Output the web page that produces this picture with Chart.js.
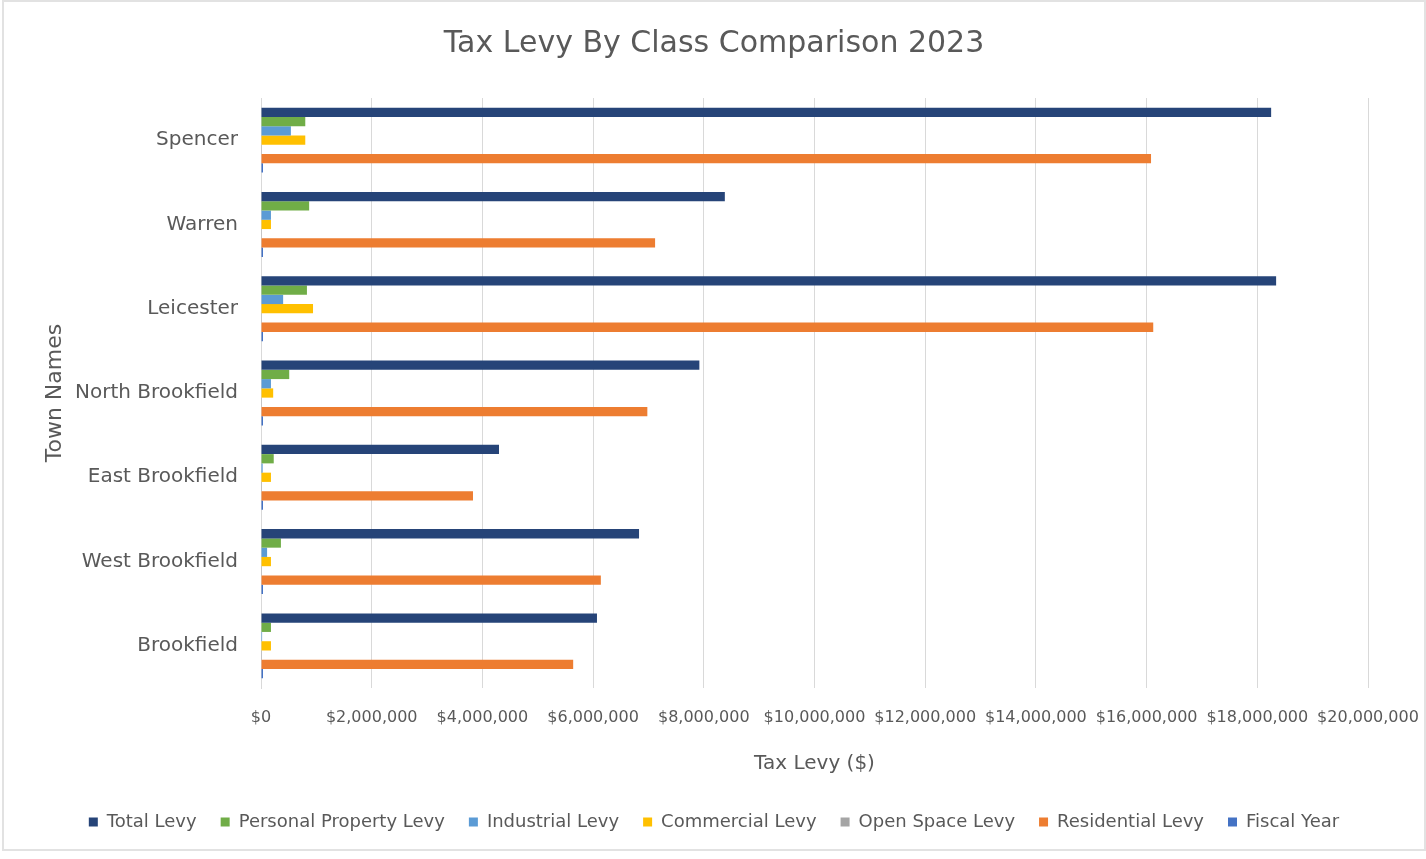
<!DOCTYPE html>
<html>
<head>
<meta charset="utf-8">
<script src="https://cdn.jsdelivr.net/npm/chart.js@4/dist/chart.umd.min.js"></script>
<style>
html,body{margin:0;padding:0;background:#fff;}
#wrap{position:relative;width:1426px;height:859px;}
</style>
</head>
<body>
<div id="wrap"><canvas id="c" width="1426" height="859"></canvas></div>
<script>
const towns = ["Spencer","Warren","Leicester","North Brookfield","East Brookfield","West Brookfield","Brookfield"];
const totalLevy =       [18250000, 8380000, 18340000, 7920000, 4300000, 6830000, 6070000];
const personalProperty = [800000,   870000,   830000,   510000,  230000,  360000,  180000];
const industrialLevy =   [540000,   180000,   400000,   180000,   30000,  110000,   20000];
const commercialLevy =   [800000,   180000,   940000,   220000,  180000,  180000,  180000];
const openSpaceLevy =    [3000,       2000,     3000,     2000,    1000,    2000,    1000];
const residentialLevy = [16080000, 7120000, 16120000, 6980000, 3830000, 6140000, 5640000];
const fiscalYear =       [2023, 2023, 2023, 2023, 2023, 2023, 2023];
const xTickValues = [0,2000000,4000000,6000000,8000000,10000000,12000000,14000000,16000000,18000000,20000000];

const FONT = "'DejaVu Sans', sans-serif";
const TXT = '#595959';

const ds = (label, data, color, extra) => Object.assign({label, data, backgroundColor: color, borderWidth: 0, barPercentage: 1.0, categoryPercentage: 0.77}, extra || {});

const frame = {
  id: 'frame',
  beforeDraw(chart) {
    const ctx = chart.ctx;
    ctx.save();
    ctx.fillStyle = '#fff';
    ctx.fillRect(0, 0, chart.width, chart.height);
    ctx.strokeStyle = '#e2e2e2';
    ctx.lineWidth = 2;
    ctx.strokeRect(3, 1, chart.width - 4, chart.height - 10);
    ctx.restore();
  }
};

new Chart(document.getElementById('c'), {
  type: 'bar',
  data: {
    labels: towns,
    datasets: [
      ds('Total Levy', totalLevy, '#264478'),
      ds('Personal Property Levy', personalProperty, '#70AD47'),
      ds('Industrial Levy', industrialLevy, '#5B9BD5'),
      ds('Commercial Levy', commercialLevy, '#FFC000'),
      ds('Open Space Levy', openSpaceLevy, '#A5A5A5'),
      ds('Residential Levy', residentialLevy, '#ED7D31'),
      ds('Fiscal Year', fiscalYear, '#4472C4', {minBarLength: 2})
    ]
  },
  plugins: [frame],
  options: {
    indexAxis: 'y',
    responsive: false,
    animation: false,
    layout: {padding: {left: 60, right: 58, top: 14, bottom: 18}},
    plugins: {
      title: {display: true, text: 'Tax Levy By Class Comparison 2023', color: TXT,
        font: {family: FONT, size: 30, weight: 'normal'}, padding: {top: 12, bottom: 36}},
      legend: {position: 'bottom', labels: {color: TXT, font: {family: FONT, size: 18},
        boxWidth: 9, boxHeight: 9, padding: 24}},
      tooltip: {enabled: false}
    },
    scales: {
      x: {
        min: 0, max: 20000000,
        afterBuildTicks: (axis) => { axis.ticks = xTickValues.map(v => ({value: v})); },
        afterFit: (s) => { s.height = 101; s.paddingLeft = 0; s.paddingRight = 0; },
        ticks: {color: TXT, font: {family: FONT, size: 16}, padding: 20, maxRotation: 0, autoSkip: false,
          callback: (v) => '$' + Number(v).toLocaleString('en-US')},
        grid: {color: '#d9d9d9', drawTicks: false},
        border: {display: false},
        title: {display: true, text: 'Tax Levy ($)', color: TXT, font: {family: FONT, size: 20}, padding: {top: 0, bottom: 13}}
      },
      y: {
        afterFit: (s) => { s.width = 201; },
        ticks: {color: TXT, font: {family: FONT, size: 20}, padding: 23},
        grid: {display: false, drawTicks: false},
        border: {display: true, color: '#d9d9d9'},
        title: {display: true, text: 'Town Names', color: TXT, font: {family: FONT, size: 22}, padding: {top: -18, bottom: 0}}
      }
    }
  }
});
</script>
</body>
</html>
